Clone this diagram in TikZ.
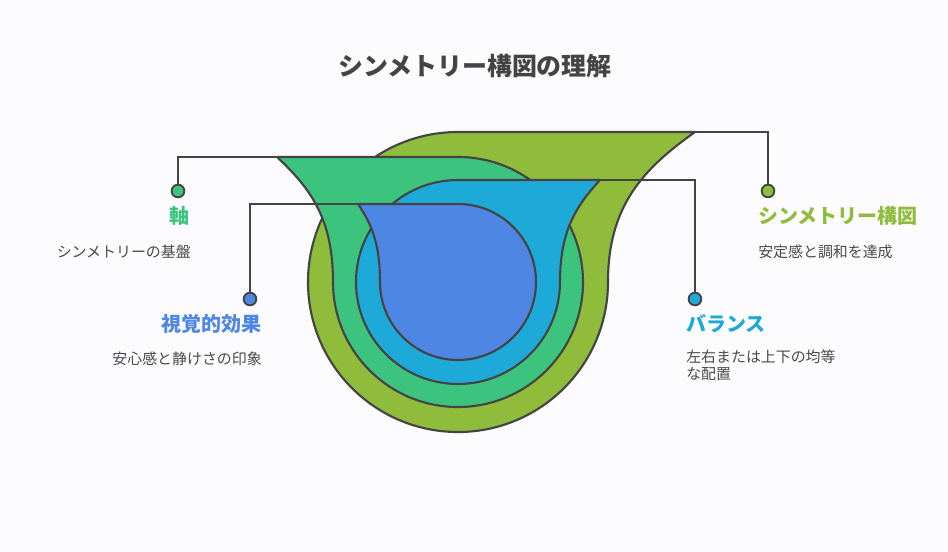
\documentclass[tikz,border=0pt]{standalone}
\usepackage{fontspec}
\setmainfont{Noto Sans CJK JP}
\newfontfamily\jp{Noto Sans CJK JP}
\definecolor{bg}{HTML}{FCFCFE}
\definecolor{olive}{HTML}{8FBC3A}
\definecolor{teal}{HTML}{3CC47F}
\definecolor{sky}{HTML}{1EAAD8}
\definecolor{royal}{HTML}{4D86E3}
\definecolor{ink}{HTML}{444444}
\definecolor{desc}{HTML}{4A4A4A}
\begin{document}
\begin{tikzpicture}[x=0.75bp,y=-0.75bp,
  shapeline/.style={draw=ink,line width=1.6bp,line join=round},
  leader/.style={draw=ink,line width=1.6bp},
  dotnode/.style={circle,draw=ink,line width=1.4bp,minimum size=9.5bp,inner sep=0pt},
  headl/.style={font=\jp\fontsize{15bp}{18bp}\selectfont\bfseries,inner sep=0pt},
  descl/.style={font=\jp\fontsize{11.2bp}{12.75bp}\selectfont,text=desc,inner sep=0pt}]
\fill[bg] (0,0) rectangle (948,552);
\useasboundingbox (0,0) rectangle (948,552);
\node[font=\jp\fontsize{18.7bp}{22bp}\selectfont\bfseries,text=ink] (title) at (475,66) {シンメトリー構図の理解};
% shapes
\coordinate (gEnd) at (695,132);
\coordinate (tEnd) at (277,157);
\coordinate (bEnd) at (600,180);
\coordinate (iEnd) at (358,204);
\path[shapeline,fill=olive] (458,132) -- (gEnd) .. controls (643,169) and (608,206) .. (608,282)
  arc[start angle=0,end angle=270,radius=150] -- cycle;
\path[shapeline,fill=teal] (tEnd) -- (458,157) arc[start angle=270,end angle=540,radius=125]
  .. controls (333,218) and (310,188) .. (tEnd) -- cycle;
\path[shapeline,fill=sky] (458,180) -- (bEnd) .. controls (576,206) and (560,231) .. (560,282)
  arc[start angle=0,end angle=270,radius=102] -- cycle;
\path[shapeline,fill=royal] (iEnd) -- (458,204) arc[start angle=270,end angle=540,radius=78]
  .. controls (380,243) and (371,223) .. (iEnd) -- cycle;
% dots
\node[dotnode,fill=olive] (dG) at (768,191) {};
\node[dotnode,fill=teal] (dT) at (178,191) {};
\node[dotnode,fill=sky] (dB) at (695,299) {};
\node[dotnode,fill=royal] (dI) at (250,299) {};
\draw[leader] (gEnd) -| (dG);
\draw[leader] (tEnd) -| (dT);
\draw[leader] (bEnd) -| (dB);
\draw[leader] (iEnd) -| (dI);
% labels
\node[headl,text=teal,anchor=east] (hT) at (190,216) {軸};
\node[descl,anchor=east] (sT) at (191,252) {シンメトリーの基盤};
\node[headl,text=royal,anchor=east] (hI) at (262,324) {視覚的効果};
\node[descl,anchor=east] (sI) at (262,359) {安心感と静けさの印象};
\node[headl,text=olive,anchor=west] (hG) at (758,216) {シンメトリー構図};
\node[descl,anchor=west] (sG) at (758,252) {安定感と調和を達成};
\node[headl,text=sky,anchor=west] (hB) at (686,324) {バランス};
\node[descl,anchor=west,align=left] (sB) at (686,365.5) {左右または上下の均等\\な配置};
\end{tikzpicture}
\end{document}
